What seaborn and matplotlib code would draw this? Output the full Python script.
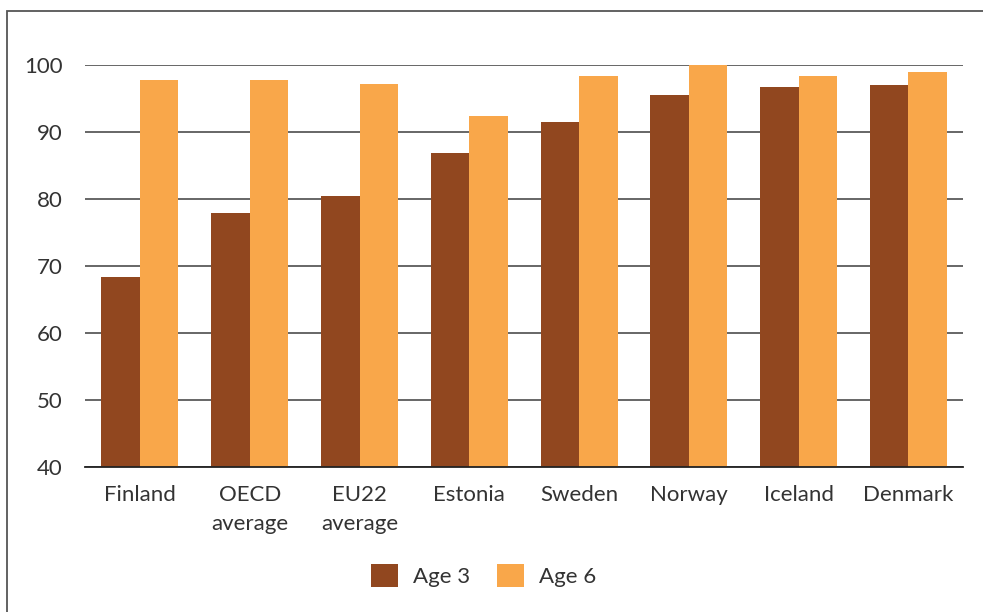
import matplotlib
matplotlib.use("Agg")
import matplotlib.pyplot as plt
from matplotlib.patches import Rectangle, Patch
import seaborn as sns
import pandas as pd

countries = ["Finland", "OECD\naverage", "EU22\naverage", "Estonia",
             "Sweden", "Norway", "Iceland", "Denmark"]
age3 = [68.4, 77.9, 80.4, 86.9, 91.5, 95.5, 96.7, 97.0]
age6 = [97.8, 97.8, 97.2, 92.4, 98.4, 100.0, 98.4, 99.0]
series = ["Age 3", "Age 6"]
colors = ["#91471f", "#f9a74a"]
yticks = [40, 50, 60, 70, 80, 90, 100]

df = pd.DataFrame({
    "country": countries * 2,
    "value": age3 + age6,
    "age": [series[0]] * len(countries) + [series[1]] * len(countries),
})

sns.set_theme(style="white")
plt.rcParams["font.family"] = ["Lato", "DejaVu Sans"]

fig = plt.figure(figsize=(9.83, 6.12), dpi=100)
ax = fig.add_axes([0.0865, 0.237, 0.8935, 0.657])

sns.barplot(data=df, x="country", y="value", hue="age", palette=colors,
            width=0.7, saturation=1, ax=ax, legend=False, zorder=3,
            linewidth=0, edgecolor="none")

ax.set_ylim(40, 100)
ax.set_yticks(yticks)
ax.set_xlim(-0.5, len(countries) - 0.5)
ax.yaxis.grid(True, color="#666666", linewidth=1.4, zorder=0)
ax.set_axisbelow(True)
for side in ["top", "right", "left"]:
    ax.spines[side].set_visible(False)
ax.spines["bottom"].set_color("#222222")
ax.spines["bottom"].set_linewidth(1.3)
ax.spines["bottom"].set_zorder(4)
ax.tick_params(axis="y", length=0, pad=16, labelsize=16, labelcolor="#333333")
ax.tick_params(axis="x", length=0, pad=13, labelsize=16, labelcolor="#333333")
for lab in ax.get_xticklabels():
    lab.set_linespacing(1.55)
ax.set_xlabel("")
ax.set_ylabel("")

handles = [Patch(facecolor=c, edgecolor="none") for c in colors]
fig.legend(handles, series, loc="center", bbox_to_anchor=(0.492, 0.06),
           ncol=2, frameon=False, fontsize=16, handlelength=1.2,
           handleheight=1.2, handletextpad=0.7, columnspacing=1.2,
           labelcolor="#333333")

# outer frame around the chart
fig.patches.append(Rectangle((7 / 983, -0.05), 1.1, 1 - 11 / 612 + 0.05,
                             transform=fig.transFigure, fill=False,
                             edgecolor="#555555", linewidth=1.3))

fig.savefig("out.png", dpi=100)
